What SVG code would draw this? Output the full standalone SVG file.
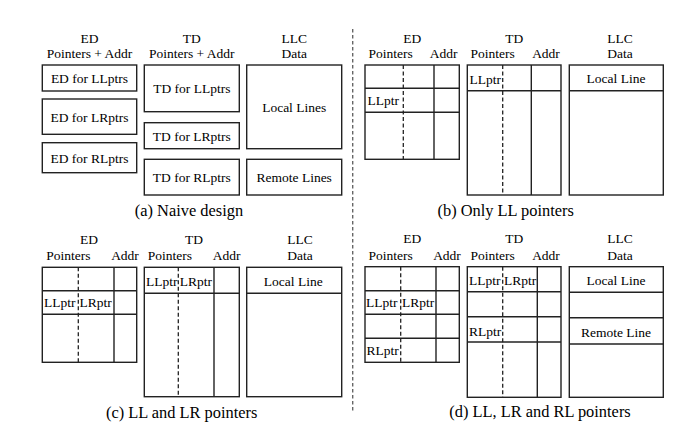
<svg xmlns="http://www.w3.org/2000/svg" width="693" height="429" viewBox="0 0 693 429" font-family="'Liberation Serif', 'DejaVu Serif', 'Times New Roman', serif">
<style>
text{font-family:'Liberation Serif','DejaVu Serif','Times New Roman',serif;fill:#000}
.h{font-size:13.5px;text-anchor:middle}
.b{font-size:13.5px;text-anchor:middle}
.l{font-size:13.5px}
.c{font-size:16.4px;text-anchor:middle}
.box{fill:#fff;stroke:#222;stroke-width:1.4}
.ln{stroke:#222;stroke-width:1.4;fill:none}
.ds{stroke:#222;stroke-width:1.3;stroke-dasharray:4 2.5;fill:none}
.dv{stroke:#666;stroke-width:1.4;stroke-dasharray:3.5 2.5;fill:none}
</style>
<rect width="693" height="429" fill="#fff"/>
<g id="connectors">
<line class="dv" x1="352.7" y1="29" x2="352.7" y2="413"/>
</g>
<!-- Panel a -->
<g id="a-headers">
<text class="h" x="89.5" y="42.5">ED</text>
<text class="h" x="89.5" y="57.8">Pointers + Addr</text>
<text class="h" x="191.8" y="42.5">TD</text>
<text class="h" x="191.8" y="57.8">Pointers + Addr</text>
<text class="h" x="294.2" y="42.5">LLC</text>
<text class="h" x="294.2" y="57.8">Data</text>
</g>
<g id="a-ed-ll"><rect class="box" x="42.3" y="65" width="94.4" height="26"/><text class="b" x="89.5" y="83">ED for LLptrs</text></g>
<g id="a-ed-lr"><rect class="box" x="42.3" y="99" width="94.4" height="35.3"/><text class="b" x="89.5" y="121.5">ED for LRptrs</text></g>
<g id="a-ed-rl"><rect class="box" x="42.3" y="142.7" width="94.4" height="30"/><text class="b" x="89.5" y="163">ED for RLptrs</text></g>
<g id="a-td-ll"><rect class="box" x="144.3" y="65" width="95" height="46.7" /><text class="b" x="191.8" y="93">TD for LLptrs</text></g>
<g id="a-td-lr"><rect class="box" x="144.3" y="122.7" width="95" height="26"/><text class="b" x="191.8" y="140.5">TD for LRptrs</text></g>
<g id="a-td-rl"><rect class="box" x="144.3" y="159.3" width="95" height="35.7"/><text class="b" x="191.8" y="182">TD for RLptrs</text></g>
<g id="a-llc-local"><rect class="box" x="246.7" y="65" width="95" height="83.7"/><text class="b" x="294.2" y="112">Local Lines</text></g>
<g id="a-llc-remote"><rect class="box" x="246.7" y="159.3" width="95" height="35.7"/><text class="b" x="294.2" y="182">Remote Lines</text></g>
<text class="c" x="189" y="215.5">(a) Naive design</text>
<!-- Panel b -->
<g id="b-headers">
<text class="h" x="412.3" y="42.5">ED</text>
<text class="h" x="390.7" y="57.8">Pointers</text>
<text class="h" x="443.7" y="57.8">Addr</text>
<text class="h" x="514.3" y="42.5">TD</text>
<text class="h" x="492.7" y="57.8">Pointers</text>
<text class="h" x="546" y="57.8">Addr</text>
<text class="h" x="620" y="42.5">LLC</text>
<text class="h" x="620" y="57.8">Data</text>
</g>
<g id="b-ed">
<rect class="box" x="365" y="65" width="94.3" height="94.3"/>
<line class="ln" x1="365" y1="88.3" x2="459.3" y2="88.3"/>
<line class="ln" x1="365" y1="112.3" x2="459.3" y2="112.3"/>
<line class="ln" x1="434" y1="65" x2="434" y2="159.3"/>
<line class="ds" x1="403.3" y1="65" x2="403.3" y2="159.3"/>
<text class="l" x="367.5" y="104.5">LLptr</text>
</g>
<g id="b-td">
<rect class="box" x="467.3" y="65" width="93.7" height="130"/>
<line class="ln" x1="467.3" y1="90.7" x2="561" y2="90.7"/>
<line class="ln" x1="531.3" y1="65" x2="531.3" y2="195"/>
<line class="ds" x1="502.7" y1="65" x2="502.7" y2="195"/>
<text class="l" x="469.5" y="84">LLptr</text>
</g>
<g id="b-llc">
<rect class="box" x="569.3" y="65" width="94" height="130"/>
<line class="ln" x1="569.3" y1="90.7" x2="663.3" y2="90.7"/>
<text class="b" x="616" y="83">Local Line</text>
</g>
<text class="c" x="505.7" y="215.5">(b) Only LL pointers</text>
<!-- Panel c -->
<g id="c-headers">
<text class="h" x="89" y="243.5">ED</text>
<text class="h" x="68.3" y="259.5">Pointers</text>
<text class="h" x="125" y="259.5">Addr</text>
<text class="h" x="194" y="243.5">TD</text>
<text class="h" x="170" y="259.5">Pointers</text>
<text class="h" x="226.7" y="259.5">Addr</text>
<text class="h" x="300" y="243.5">LLC</text>
<text class="h" x="300" y="259.5">Data</text>
</g>
<g id="c-ed">
<rect class="box" x="42.3" y="267.3" width="94.4" height="95"/>
<line class="ln" x1="42.3" y1="290.7" x2="136.7" y2="290.7"/>
<line class="ln" x1="42.3" y1="314.3" x2="136.7" y2="314.3"/>
<line class="ln" x1="114" y1="267.3" x2="114" y2="362.3"/>
<line class="ds" x1="78.3" y1="267.3" x2="78.3" y2="362.3"/>
<text class="l" x="44" y="307.3">LLptr</text>
<text class="l" x="79.5" y="307.3">LRptr</text>
</g>
<g id="c-td">
<rect class="box" x="144.3" y="267.3" width="95" height="129.4"/>
<line class="ln" x1="144.3" y1="293.3" x2="239.3" y2="293.3"/>
<line class="ln" x1="214" y1="267.3" x2="214" y2="396.7"/>
<line class="ds" x1="178.3" y1="267.3" x2="178.3" y2="396.7"/>
<text class="l" x="146" y="286">LLptr</text>
<text class="l" x="179.8" y="286">LRptr</text>
</g>
<g id="c-llc">
<rect class="box" x="246.7" y="267.3" width="95" height="129.4"/>
<line class="ln" x1="246.7" y1="293.3" x2="341.7" y2="293.3"/>
<text class="b" x="293.3" y="286">Local Line</text>
</g>
<text class="c" x="181.7" y="418">(c) LL and LR pointers</text>
<!-- Panel d -->
<g id="d-headers">
<text class="h" x="412.3" y="242.7">ED</text>
<text class="h" x="390.7" y="259.5">Pointers</text>
<text class="h" x="447" y="259.5">Addr</text>
<text class="h" x="514.3" y="242.7">TD</text>
<text class="h" x="492.7" y="259.5">Pointers</text>
<text class="h" x="546" y="259.5">Addr</text>
<text class="h" x="620" y="242.7">LLC</text>
<text class="h" x="620" y="259.5">Data</text>
</g>
<g id="d-ed">
<rect class="box" x="365" y="266.7" width="94.3" height="95.6"/>
<line class="ln" x1="365" y1="290.7" x2="459.3" y2="290.7"/>
<line class="ln" x1="365" y1="314.3" x2="459.3" y2="314.3"/>
<line class="ln" x1="365" y1="338.3" x2="459.3" y2="338.3"/>
<line class="ln" x1="436" y1="266.7" x2="436" y2="362.3"/>
<line class="ds" x1="400.7" y1="266.7" x2="400.7" y2="362.3"/>
<text class="l" x="366" y="307.3">LLptr</text>
<text class="l" x="402" y="307.3">LRptr</text>
<text class="l" x="366.5" y="355">RLptr</text>
</g>
<g id="d-td">
<rect class="box" x="467.3" y="266.7" width="93.7" height="130.6"/>
<line class="ln" x1="467.3" y1="291.7" x2="561" y2="291.7"/>
<line class="ln" x1="467.3" y1="316.7" x2="561" y2="316.7"/>
<line class="ln" x1="467.3" y1="342" x2="561" y2="342"/>
<line class="ln" x1="537.3" y1="266.7" x2="537.3" y2="397.3"/>
<line class="ds" x1="502.7" y1="266.7" x2="502.7" y2="397.3"/>
<text class="l" x="469" y="285">LLptr</text>
<text class="l" x="504" y="285">LRptr</text>
<text class="l" x="469" y="336">RLptr</text>
</g>
<g id="d-llc">
<rect class="box" x="569.3" y="266.7" width="94" height="130.6"/>
<line class="ln" x1="569.3" y1="292.3" x2="663.3" y2="292.3"/>
<line class="ln" x1="569.3" y1="317.7" x2="663.3" y2="317.7"/>
<line class="ln" x1="569.3" y1="344" x2="663.3" y2="344"/>
<text class="b" x="616" y="285">Local Line</text>
<text class="b" x="616" y="336.5">Remote Line</text>
</g>
<text class="c" x="540" y="416.7">(d) LL, LR and RL pointers</text>
</svg>
